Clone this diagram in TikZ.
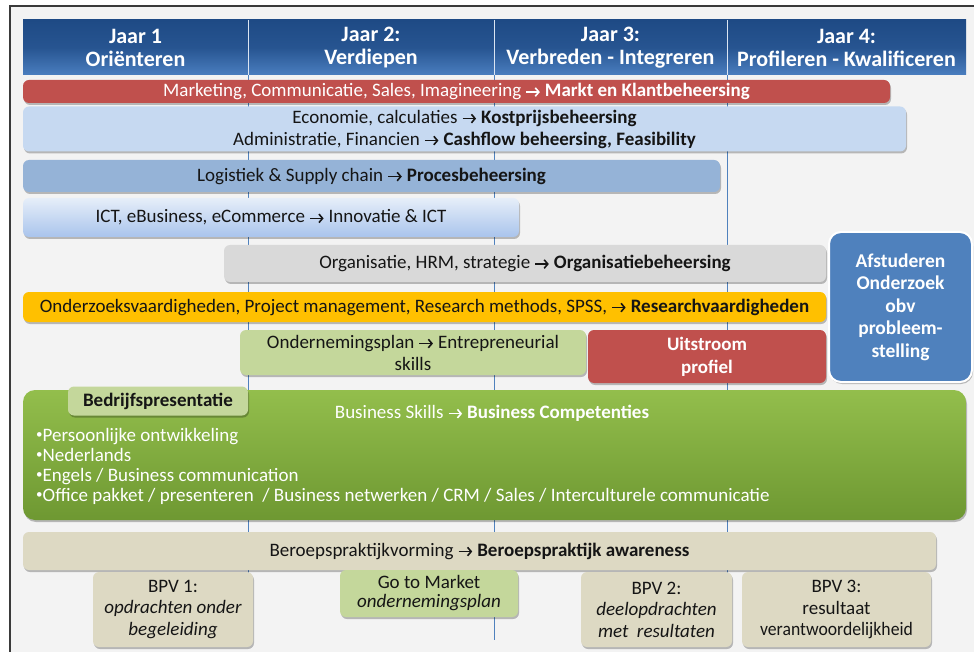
\documentclass[tikz,border=0pt]{standalone}
\usepackage{fontspec}
\setmainfont{Carlito}
\usetikzlibrary{shadows,arrows.meta}
\newcommand\arr{\tikz[baseline=0pt]\draw[draw=., line width=1.6pt, line cap=butt, -{Straight Barb[length=3.6pt,width=8.5pt]}] (0pt,4.5pt) -- (13.5pt,4.5pt);}
\newcommand\bul{\raisebox{0.17em}{\fontsize{13}{13}\selectfont •}}
\definecolor{bgc}{HTML}{F3F3F3}
\definecolor{framec}{HTML}{3A3A3A}
\definecolor{hdrA}{HTML}{1E4A85}
\definecolor{hdrB}{HTML}{4A7EBF}
\definecolor{redbar}{HTML}{C0504D}
\definecolor{econ}{HTML}{C6D9F1}
\definecolor{logi}{HTML}{95B3D7}
\definecolor{ictA}{HTML}{E6EEF9}
\definecolor{ictB}{HTML}{A9C4EC}
\definecolor{orgc}{HTML}{D9D9D9}
\definecolor{orangec}{HTML}{FFC000}
\definecolor{lgreen}{HTML}{C4D79B}
\definecolor{afst}{HTML}{4F81BD}
\definecolor{gA}{HTML}{93BE4C}
\definecolor{gB}{HTML}{6E9832}
\definecolor{tan}{HTML}{DDD9C3}
\definecolor{vline}{HTML}{4F81BD}
\definecolor{txt}{HTML}{151515}
\tikzset{
  bar/.style={rounded corners=6pt, inner sep=0pt, align=center, text=txt,
    font=\fontsize{19}{22}\selectfont,
    drop shadow={shadow xshift=1pt, shadow yshift=-2pt, opacity=0.25, fill=black}},
  hdrtext/.style={text=white, align=center, font=\bfseries\fontsize{22}{23}\selectfont},
  grid/.style={draw=vline, line width=1pt}
}
\begin{document}
\begin{tikzpicture}[x=1pt, y=-1pt]
\useasboundingbox (0,0) rectangle (974,652);
\fill[white] (0,0) rectangle (974,652);
\fill[bgc] (10,6) rectangle (974,652);
\draw[framec, line width=1.5pt] (10,652) -- (10,6) -- (974,6);

% vertical guide lines
\coordinate (v1t) at (248,75); \coordinate (v1b) at (248,640);
\coordinate (v2t) at (494,75); \coordinate (v2b) at (494,640);
\coordinate (v3t) at (727,75); \coordinate (v3b) at (727,640);
\draw[grid] (v1t) -- (v1b);
\draw[grid] (v2t) -- (v2b);
\draw[grid] (v3t) -- (v3b);

% header
\node[inner sep=0pt, minimum width=943pt, minimum height=55pt, top color=hdrA, bottom color=hdrB, middle color=hdrA!80!hdrB] (hdr) at (494.5,47.5) {};
\coordinate (s1t) at (248,20); \coordinate (s1b) at (248,75);
\coordinate (s2t) at (494,20); \coordinate (s2b) at (494,75);
\coordinate (s3t) at (727,20); \coordinate (s3b) at (727,75);
\draw[white!80!hdrB, line width=1pt] (s1t) -- (s1b);
\draw[white!80!hdrB, line width=1pt] (s2t) -- (s2b);
\draw[white!80!hdrB, line width=1pt] (s3t) -- (s3b);
\node[hdrtext] (h1) at (135.5,48) {Jaar 1\\Oriënteren};
\node[hdrtext] (h2) at (371,48) {Jaar 2:\\Verdiepen};
\node[hdrtext] (h3) at (610.5,48) {Jaar 3:\\Verbreden - Integreren};
\node[hdrtext] (h4) at (846.5,48) {Jaar 4:\\Profileren - Kwalificeren};

% bars
\node[bar, fill=redbar, text=white, minimum width=867pt, minimum height=23pt] (mkt) at (456.5,91.5)
  {Marketing, Communicatie, Sales, Imagineering \arr\ \textbf{Markt en Klantbeheersing}};
\node[bar, fill=econ, minimum width=883pt, minimum height=45pt] (eco) at (464.5,129)
  {Economie, calculaties \arr\ \textbf{Kostprijsbeheersing}\\Administratie, Financien \arr\ \textbf{Cashflow beheersing, Feasibility}};
\node[bar, fill=logi, minimum width=697pt, minimum height=32pt] (log) at (371.5,176)
  {Logistiek \& Supply chain \arr\ \textbf{Procesbeheersing}};
\node[bar, top color=ictA, bottom color=ictB, minimum width=496pt, minimum height=39pt] (ict) at (271,217.5)
  {ICT, eBusiness, eCommerce \arr\ Innovatie \& ICT};
\node[bar, fill=orgc, minimum width=602pt, minimum height=37pt] (org) at (525,263.5)
  {Organisatie, HRM, strategie \arr\ \textbf{Organisatiebeheersing}};
\node[bar, fill=orangec, minimum width=803pt, minimum height=30pt] (res) at (424.5,307)
  {Onderzoeksvaardigheden, Project management, Research methods, SPSS, \arr\ \textbf{Researchvaardigheden}};
\node[bar, fill=lgreen, minimum width=346pt, minimum height=45pt] (ond) at (413,352.5)
  {Ondernemingsplan \arr\ Entrepreneurial\\skills};
\node[bar, fill=redbar, text=white, minimum width=238pt, minimum height=53pt, font=\bfseries\fontsize{19}{23}\selectfont] (uit) at (707,356.5)
  {Uitstroom\\profiel};
\node[bar, fill=afst, draw=white, line width=2pt, rounded corners=12pt, text=white, minimum width=143pt, minimum height=150pt, font=\bfseries\fontsize{19.5}{22.5}\selectfont] (afs) at (900.5,307)
  {Afstuderen\\Onderzoek\\obv\\probleem-\\stelling};

% business skills
\node[bar, top color=gA, bottom color=gB, rounded corners=12pt, minimum width=943pt, minimum height=130pt] (bus) at (494.5,455) {};
\node[text=white, font=\fontsize{19}{22}\selectfont, inner sep=0pt] (bust) at (492,413)
  {Business Skills \arr\ \textbf{Business Competenties}};
\node[text=white, font=\fontsize{19}{20}\selectfont, align=left, anchor=north west, inner sep=0pt] (busl) at (36,428)
  {\bul Persoonlijke ontwikkeling\\\bul Nederlands\\\bul Engels / Business communication\\\bul Office pakket / presenteren~~/ Business netwerken / CRM / Sales / Interculturele communicatie};
\node[bar, fill=lgreen, minimum width=180pt, minimum height=29pt, font=\bfseries\fontsize{19}{21}\selectfont] (bed) at (158,401)
  {Bedrijfspresentatie};

% beroepspraktijk
\node[bar, fill=tan, minimum width=913pt, minimum height=38pt] (ber) at (479.5,551)
  {Beroepspraktijkvorming \arr\ \textbf{Beroepspraktijk awareness}};
\node[bar, fill=tan, minimum width=160pt, minimum height=75pt, font=\fontsize{19}{21.5}\selectfont] (bpv1) at (173,609.5)
  {BPV 1:\\\textit{opdrachten onder}\\\textit{begeleiding}};
\node[bar, fill=lgreen, minimum width=178pt, minimum height=47pt, font=\fontsize{19}{19}\selectfont] (gtm) at (429,593.5)
  {Go to Market\\\textit{ondernemingsplan}};
\node[bar, fill=tan, minimum width=151pt, minimum height=75pt, font=\fontsize{19}{21.5}\selectfont] (bpv2) at (656.5,609.5)
  {BPV 2:\\\textit{deelopdrachten}\\\textit{met~ resultaten}};
\node[bar, fill=tan, minimum width=189pt, minimum height=75pt, font=\fontsize{19}{21.5}\selectfont] (bpv3) at (836.5,609.5)
  {BPV 3:\\resultaat\\\scalebox{0.93}[1]{verantwoordelijkheid}};
\end{tikzpicture}
\end{document}
